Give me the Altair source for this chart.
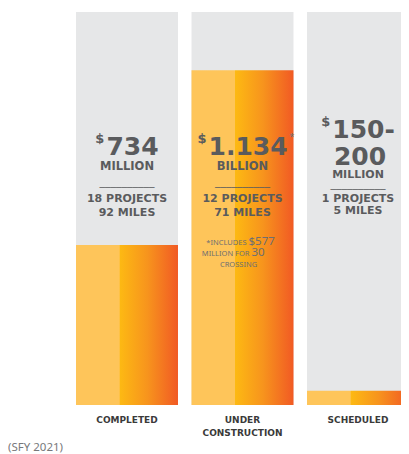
import altair as alt
import pandas as pd

# ---------------- data ----------------
categories = ["COMPLETED", "UNDER CONSTRUCTION", "SCHEDULED"]
column_total = [100, 100, 100]          # full height of each grey column
filled_share = [40.7, 85.2, 3.6]        # filled (orange) share of each column
amount_lines = [["734"], ["1.134"], ["150-", "200"]]
amount_units = ["MILLION", "BILLION", "MILLION"]
project_counts = ["18 PROJECTS", "12 PROJECTS", "1 PROJECTS"]
mile_counts = ["92 MILES", "71 MILES", "5 MILES"]
footnote_small = ["*INCLUDES", "MILLION FOR", "CROSSING"]
footnote_big = ["$577", "30", ""]
source_note = "(SFY 2021)"

# ---------------- styles ----------------
HEAD = "DejaVu Sans"
NOTE = "Noto Sans"
TXT = "#5a5b5d"
NOTE_C = "#6d6e71"
GREY = "#E6E7E8"

grad = alt.LinearGradient(
    gradient="linear",
    stops=[
        alt.GradientStop(color="#FEC55A", offset=0),
        alt.GradientStop(color="#FEC55A", offset=0.425),
        alt.GradientStop(color="#FDB913", offset=0.43),
        alt.GradientStop(color="#F7941D", offset=0.7),
        alt.GradientStop(color="#F15A24", offset=1),
    ],
    x1=0, x2=1, y1=0, y2=0,
)

# the last column runs past the right edge of the view and is clipped there
xscale = alt.Scale(domain=categories, range=[68, 401], paddingInner=0.117, paddingOuter=0)
yscale = alt.Scale(domain=[0, 100], nice=False, zero=True)
xaxis = alt.Axis(
    title=None, domain=False, ticks=False, grid=False, labelAngle=0,
    labelExpr="split(datum.label, ' ')", labelFont=HEAD, labelFontWeight="bold",
    labelFontSize=9, labelColor="#3a3a3a", labelPadding=10, labelLineHeight=13,
)
X = alt.X("category:N", scale=xscale, axis=xaxis)
Y = alt.Y("top:Q", scale=yscale, axis=None)

base = pd.DataFrame({"category": categories, "top": column_total, "fill": filled_share})

grey = alt.Chart(base).mark_bar(color=GREY, clip=True).encode(x=X, y=Y)
orange = alt.Chart(base).mark_bar(color=grad, clip=True).encode(
    x=X, y=alt.Y("fill:Q", scale=yscale, axis=None)
)

# glyph width estimate for DejaVu Sans Bold (em units)
W = {".": 0.38, "-": 0.415, "$": 0.696}


def text_w(s, size):
    return sum(W.get(c, 0.696) for c in s) * size


def txt(cat, label, size, weight, dy, dx=0, align="center", color=TXT, font=HEAD):
    df = pd.DataFrame({"category": [cat], "top": [100], "label": [label]})
    return alt.Chart(df).mark_text(
        align=align, baseline="alphabetic", dx=dx, dy=dy, fontSize=size,
        fontWeight=weight, font=font, color=color,
    ).encode(x=X, y=Y, text="label:N")


NUM = 25
DOL = 13
layers = [grey, orange]
for i, cat in enumerate(categories):
    lines = amount_lines[i]
    two = len(lines) > 1
    num_w = text_w(lines[0], NUM)
    dol_w = text_w("$", DOL)
    gap = 2
    ndx = (dol_w + gap) / 2
    first_dy = 126 if two else 143
    layers.append(txt(cat, lines[0], NUM, "bold", first_dy, dx=ndx))
    layers.append(txt(cat, "$", DOL, "bold", first_dy - 12, dx=ndx - num_w / 2 - gap, align="right"))
    if two:
        layers.append(txt(cat, lines[1], NUM, "bold", 153, dx=2))
    layers.append(txt(cat, amount_units[i], 11 if two else 11.5, "bold", 165.5 if two else 158))
    layers.append(txt(cat, "__________", 11, "normal", 174.5 if two else 172.5))
    layers.append(txt(cat, project_counts[i], 11, "bold", 190))
    layers.append(txt(cat, mile_counts[i], 11, "bold", 202 if two else 204))
    if cat == "UNDER CONSTRUCTION":
        layers.append(txt(cat, "*", 9, "normal", 128, dx=ndx + num_w / 2 + 2,
                          align="left", color=NOTE_C, font=NOTE))

# footnote inside the under-construction bar
fn_cat = categories[1]
fn_dy = [233, 244, 255]
fn_split = [4, 7, -4]
for k in range(3):
    if footnote_big[k]:
        layers.append(txt(fn_cat, footnote_small[k], 7.5, "normal", fn_dy[k], dx=fn_split[k],
                          align="right", color=NOTE_C, font=NOTE))
        layers.append(txt(fn_cat, footnote_big[k], 11.5, "normal", fn_dy[k], dx=fn_split[k] + 2,
                          align="left", color=NOTE_C, font=NOTE))
    else:
        layers.append(txt(fn_cat, footnote_small[k], 7.5, "normal", fn_dy[k], dx=fn_split[k],
                          color=NOTE_C, font=NOTE))

chart = alt.layer(*layers).properties(
    width=393, height=393,
    padding={"left": 0, "top": 4, "right": 0, "bottom": 49},
    autosize=alt.AutoSizeParams(type="none"),
    title=alt.TitleParams(
        source_note, orient="bottom", anchor="start", frame="group", offset=5,
        font=NOTE, fontSize=11.5, fontWeight="normal", color="#77787b",
    ),
).configure_view(stroke=None)

chart.save("out.html", embed_options={"renderer": "svg", "actions": False})
